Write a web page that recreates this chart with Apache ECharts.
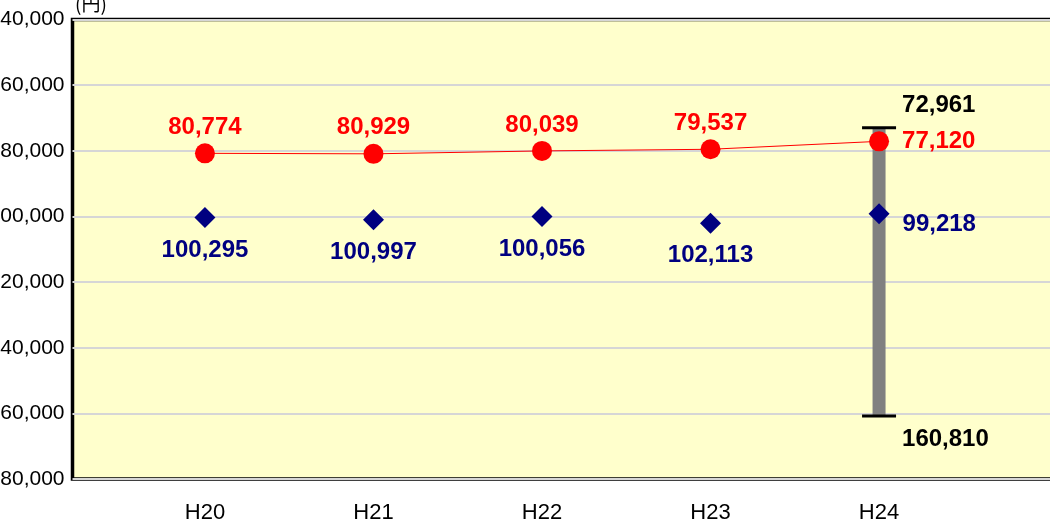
<!DOCTYPE html>
<html><head><meta charset="utf-8">
<script src="https://cdn.jsdelivr.net/npm/echarts@6/dist/echarts.min.js"></script>
<style>html,body{margin:0;padding:0;background:#fff}#c{width:1050px;height:519px}</style>
</head><body><div id="c"></div>
<script>
const categories = ['H20', 'H21', 'H22', 'H23', 'H24'];
const redValues = [80774, 80929, 80039, 79537, 77120];
const blueValues = [100295, 100997, 100056, 102113, 99218];
const rangeLow = 72961;   // top of range bar (H24)
const rangeHigh = 160810; // bottom of range bar (H24)
const rangeIndex = 4;
const yTicks = [40000, 60000, 80000, 100000, 120000, 140000, 160000, 180000];
const unitLabel = '(円)';

const FONT = "'Liberation Sans', Arial, sans-serif";
const fmt = v => String(v).replace(/\B(?=(\d{3})+(?!\d))/g, ',');
const last = categories.length - 1;

const chart = echarts.init(document.getElementById('c'), null, {renderer: 'canvas'});
chart.setOption({
  animation: false,
  title: {text: unitLabel, left: 75, top: -6, padding: 0,
          textStyle: {color: '#000', fontSize: 19, fontWeight: 'normal', fontFamily: "'Noto Sans CJK JP', sans-serif"}},
  grid: {left: 72.5, top: 19.5, width: 983.5, height: 459.5, show: true, containLabel: false, outerBoundsMode: 'none',
         backgroundColor: '#FFFFCC', borderColor: '#000', borderWidth: 3.5},
  xAxis: {
    type: 'value', min: -0.786, max: 5.05,
    axisLine: {show: false}, axisTick: {show: false}, splitLine: {show: false},
    axisLabel: {customValues: categories.map((c, i) => i), formatter: v => categories[Math.round(v)] || '',
                color: '#000', fontSize: 22, fontFamily: FONT, margin: 23}
  },
  yAxis: {
    type: 'value', inverse: true, min: yTicks[0], max: yTicks[yTicks.length - 1], interval: 20000,
    axisLine: {show: false}, axisTick: {show: false},
    splitLine: {show: true, lineStyle: {color: '#d6d6d6', width: 2}},
    axisLabel: {formatter: v => fmt(v), color: '#000', fontSize: 21, fontFamily: FONT, margin: 8}
  },
  series: [
    {
      type: 'custom', z: 1,
      data: [[rangeIndex, rangeLow, rangeHigh]],
      renderItem: (params, api) => {
        const x = api.value(0), lo = api.value(1), hi = api.value(2);
        const p1 = api.coord([x, lo]), p2 = api.coord([x, hi]);
        const tf = 'bold 24px ' + FONT;
        return {type: 'group', children: [
          {type: 'rect', shape: {x: p1[0] - 6.5, y: p1[1], width: 13, height: p2[1] - p1[1]}, style: {fill: '#808080'}},
          {type: 'line', shape: {x1: p1[0] - 17, y1: p1[1], x2: p1[0] + 17, y2: p1[1]}, style: {stroke: '#000', lineWidth: 3}},
          {type: 'line', shape: {x1: p2[0] - 17, y1: p2[1], x2: p2[0] + 17, y2: p2[1]}, style: {stroke: '#000', lineWidth: 3}},
          {type: 'text', x: p1[0] + 23, y: p1[1] - 22, style: {text: fmt(lo), font: tf, fill: '#000', verticalAlign: 'middle'}},
          {type: 'text', x: p2[0] + 23, y: p2[1] + 23, style: {text: fmt(hi), font: tf, fill: '#000', verticalAlign: 'middle'}}
        ]};
      }
    },
    {
      type: 'line', z: 3,
      data: redValues.map((v, i) => i === last
        ? {value: [i, v], label: {position: 'right', distance: 13}}
        : {value: [i, v]}),
      symbol: 'circle', symbolSize: 20,
      lineStyle: {color: '#FF0000', width: 1},
      itemStyle: {color: '#FF0000', opacity: 1},
      label: {show: true, position: 'top', distance: 4, color: '#FF0000', fontSize: 24, fontWeight: 'bold', fontFamily: FONT,
              formatter: p => fmt(p.value[1])}
    },
    {
      type: 'scatter', z: 4,
      data: blueValues.map((v, i) => i === last
        ? {value: [i, v], label: {position: 'right', distance: 13, offset: [0, 11]}}
        : {value: [i, v]}),
      symbol: 'diamond', symbolSize: 21,
      itemStyle: {color: '#000080', opacity: 1},
      label: {show: true, position: 'bottom', distance: 10, color: '#000080', fontSize: 24, fontWeight: 'bold', fontFamily: FONT,
              formatter: p => fmt(p.value[1])}
    }
  ]
});
</script></body></html>
